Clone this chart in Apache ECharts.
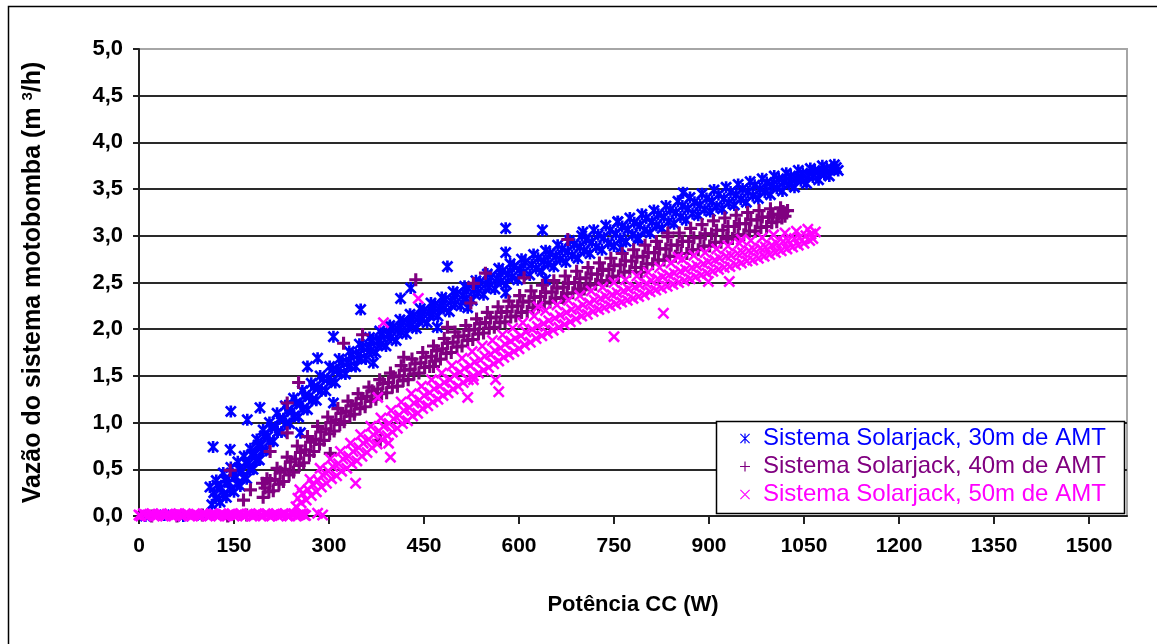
<!DOCTYPE html>
<html>
<head>
<meta charset="utf-8">
<script src="https://cdn.jsdelivr.net/npm/echarts@6/dist/echarts.min.js"></script>
<style>
html,body{margin:0;padding:0;background:#fff;}
#chart{width:1157px;height:644px;}
</style>
</head>
<body>
<div id="chart"></div>
<script>
// ---------- data ----------
const seriesNames = ['Sistema Solarjack, 30m de AMT', 'Sistema Solarjack, 40m de AMT', 'Sistema Solarjack, 50m de AMT'];
const xTicks = [0, 150, 300, 450, 600, 750, 900, 1050, 1200, 1350, 1500];

const blueZero = [[10,0.0],[40,0.01],[70,0.0],[100,0.01]];
const blueBand = [[115,0.12],[118,0.25],[122,0.38],[128,0.15],[130,0.30],[133,0.46],[138,0.20],[142,0.36],[145,0.52],[150,0.26],[153,0.42],[156,0.58],[160,0.32],[163,0.48],[166,0.64],[170,0.40],[173,0.56],[176,0.72],[180,0.50],[183,0.66],[186,0.82],[190,0.60],[193,0.76],[196,0.92],[200,0.70],[203,0.85],[206,1.00],[212,0.80],[215,0.95],[218,1.10],[225,0.90],[228,1.04],[231,1.18],[238,0.99],[241,1.12],[244,1.26],[252,1.06],[255,1.20],[258,1.34],[266,1.14],[269,1.28],[272,1.42],[280,1.24],[283,1.37],[286,1.50],[295,1.34],[298,1.47],[301,1.60],[310,1.43],[313,1.56],[316,1.68],[326,1.52],[329,1.64],[332,1.76],[342,1.60],[345,1.72],[348,1.84],[358,1.68],[361,1.80],[364,1.91],[374,1.75],[377,1.87],[380,1.98],[390,1.82],[393,1.94],[396,2.04],[406,1.88],[409,2.00],[412,2.10],[422,1.95],[425,2.06],[428,2.16],[438,2.01],[441,2.12],[444,2.22],[455,2.07],[458,2.18],[461,2.28],[472,2.14],[475,2.24],[478,2.34],[490,2.19],[493,2.30],[496,2.40],[508,2.25],[511,2.36],[514,2.46],[526,2.31],[529,2.42],[532,2.52],[544,2.37],[547,2.48],[550,2.59],[562,2.43],[565,2.54],[568,2.65],[580,2.48],[583,2.59],[586,2.70],[598,2.53],[601,2.64],[604,2.75],[617,2.58],[620,2.69],[623,2.80],[636,2.62],[639,2.73],[642,2.84],[655,2.67],[658,2.78],[661,2.90],[674,2.72],[677,2.83],[680,2.95],[693,2.76],[696,2.88],[699,3.00],[712,2.81],[715,2.93],[718,3.06],[731,2.85],[734,2.98],[737,3.11],[750,2.89],[753,3.02],[756,3.15],[769,2.94],[772,3.07],[775,3.19],[788,2.98],[791,3.11],[794,3.23],[807,3.03],[810,3.15],[813,3.27],[826,3.08],[829,3.20],[832,3.32],[845,3.13],[848,3.25],[851,3.37],[864,3.17],[867,3.29],[870,3.41],[883,3.22],[886,3.33],[889,3.45],[902,3.26],[905,3.37],[908,3.49],[921,3.29],[924,3.40],[927,3.52],[940,3.33],[943,3.44],[946,3.55],[959,3.36],[962,3.47],[965,3.58],[978,3.40],[981,3.50],[984,3.61],[997,3.44],[1000,3.54],[1003,3.64],[1016,3.48],[1019,3.58],[1022,3.67],[1035,3.52],[1038,3.61],[1041,3.70],[1054,3.56],[1057,3.64],[1060,3.72],[1073,3.60],[1076,3.67],[1079,3.75],[1090,3.64],[1094,3.71],[1098,3.76],[1104,3.70]];
const blueBandFill = [[121,0.19],[123,0.33],[133,0.23],[135,0.39],[144,0.28],[147,0.45],[155,0.34],[158,0.50],[165,0.41],[168,0.57],[175,0.50],[178,0.66],[185,0.60],[188,0.76],[195,0.70],[198,0.86],[206,0.80],[209,0.95],[219,0.90],[222,1.04],[232,0.99],[235,1.13],[245,1.07],[248,1.21],[259,1.15],[262,1.29],[273,1.24],[276,1.38],[288,1.34],[291,1.47],[303,1.44],[306,1.57],[318,1.53],[321,1.65],[334,1.61],[337,1.73],[350,1.69],[353,1.81],[366,1.77],[369,1.88],[382,1.84],[385,1.95],[398,1.91],[401,2.02],[414,1.97],[417,2.08],[430,2.04],[433,2.14],[447,2.10],[450,2.20],[464,2.16],[467,2.26],[481,2.22],[484,2.32],[499,2.27],[502,2.38],[517,2.33],[520,2.44],[535,2.39],[538,2.50],[553,2.45],[556,2.56],[571,2.51],[574,2.62],[589,2.56],[592,2.67],[607,2.61],[610,2.72],[627,2.65],[630,2.76],[646,2.70],[649,2.81],[665,2.75],[668,2.86],[684,2.79],[687,2.91],[703,2.84],[706,2.96],[722,2.88],[725,3.01],[741,2.92],[744,3.06],[760,2.97],[763,3.10],[779,3.01],[782,3.14],[798,3.06],[801,3.19],[817,3.11],[820,3.23],[836,3.15],[839,3.28],[855,3.20],[858,3.32],[874,3.24],[877,3.36],[893,3.28],[896,3.40],[912,3.31],[915,3.44],[931,3.35],[934,3.47],[950,3.39],[953,3.50],[969,3.43],[972,3.54],[988,3.47],[991,3.57],[1007,3.51],[1010,3.61],[1026,3.55],[1029,3.64],[1045,3.59],[1048,3.67],[1064,3.63],[1067,3.70],[1082,3.66],[1086,3.72],[1101,3.73]];
const blueOutliers = [[112,0.31],[117,0.74],[144,0.71],[145,1.12],[171,1.03],[191,1.16],[255,0.89],[266,1.60],[282,1.69],[307,1.92],[307,1.21],[350,2.21],[370,1.64],[413,2.33],[429,2.44],[471,2.02],[487,2.67],[519,2.23],[579,3.08],[637,3.06],[579,2.82],[579,2.39],[642,2.53],[761,2.87],[859,3.46],[788,2.96],[701,3.04],[756,3.15]];

const purpleZero = [[20,0.0],[60,0.0],[100,0.01],[140,0.0],[170,0.01]];
const purpleBand = [[196,0.20],[199,0.30],[202,0.40],[212,0.27],[215,0.39],[218,0.51],[228,0.37],[231,0.50],[234,0.63],[244,0.47],[247,0.61],[250,0.75],[260,0.57],[263,0.71],[266,0.85],[276,0.69],[279,0.82],[282,0.96],[292,0.81],[295,0.93],[298,1.06],[308,0.91],[311,1.03],[314,1.15],[324,1.01],[327,1.12],[330,1.23],[340,1.09],[343,1.20],[346,1.31],[357,1.17],[360,1.28],[363,1.38],[374,1.25],[377,1.36],[380,1.46],[391,1.32],[394,1.43],[397,1.53],[408,1.39],[411,1.50],[414,1.61],[425,1.46],[428,1.57],[431,1.68],[442,1.53],[445,1.64],[448,1.75],[459,1.60],[462,1.71],[465,1.82],[476,1.68],[479,1.79],[482,1.90],[493,1.75],[496,1.86],[499,1.97],[510,1.82],[513,1.93],[516,2.04],[527,1.89],[530,2.00],[533,2.11],[544,1.96],[547,2.07],[550,2.18],[561,2.02],[564,2.13],[567,2.24],[578,2.08],[581,2.19],[584,2.30],[595,2.14],[598,2.25],[601,2.36],[613,2.19],[616,2.30],[619,2.41],[631,2.24],[634,2.35],[637,2.47],[649,2.29],[652,2.40],[655,2.52],[667,2.34],[670,2.45],[673,2.57],[685,2.39],[688,2.50],[691,2.62],[703,2.43],[706,2.55],[709,2.66],[721,2.48],[724,2.59],[727,2.71],[739,2.52],[742,2.64],[745,2.76],[757,2.57],[760,2.69],[763,2.81],[775,2.62],[778,2.73],[781,2.85],[793,2.66],[796,2.78],[799,2.90],[811,2.70],[814,2.82],[817,2.94],[829,2.74],[832,2.86],[835,2.99],[847,2.78],[850,2.90],[853,3.03],[865,2.81],[868,2.94],[871,3.08],[883,2.85],[886,2.98],[889,3.12],[901,2.89],[904,3.02],[907,3.16],[919,2.93],[922,3.06],[925,3.19],[937,2.97],[940,3.10],[943,3.22],[955,3.01],[958,3.13],[961,3.25],[973,3.05],[976,3.17],[979,3.27],[991,3.10],[994,3.20],[997,3.29],[1007,3.15],[1010,3.23],[1013,3.30],[1020,3.21],[1024,3.27]];
const purpleBandFill = [[205,0.26],[207,0.38],[221,0.34],[223,0.47],[237,0.44],[239,0.58],[253,0.54],[255,0.68],[269,0.65],[271,0.79],[285,0.77],[287,0.90],[301,0.88],[303,1.00],[317,0.98],[319,1.10],[333,1.07],[335,1.18],[349,1.15],[351,1.26],[366,1.23],[368,1.34],[383,1.31],[385,1.42],[400,1.38],[402,1.49],[417,1.45],[419,1.56],[434,1.52],[436,1.63],[451,1.59],[453,1.70],[468,1.66],[470,1.77],[485,1.74],[487,1.85],[502,1.81],[504,1.92],[519,1.88],[521,1.99],[536,1.95],[538,2.06],[553,2.01],[555,2.12],[570,2.07],[572,2.18],[587,2.13],[589,2.24],[604,2.18],[606,2.29],[622,2.23],[624,2.34],[640,2.28],[642,2.39],[658,2.33],[660,2.44],[676,2.38],[678,2.49],[694,2.43],[696,2.54],[712,2.47],[714,2.59],[730,2.52],[732,2.63],[748,2.56],[750,2.68],[766,2.61],[768,2.73],[784,2.66],[786,2.77],[802,2.70],[804,2.82],[820,2.74],[822,2.86],[838,2.78],[840,2.90],[856,2.81],[858,2.94],[874,2.85],[876,2.98],[892,2.89],[894,3.02],[910,2.93],[912,3.06],[928,2.97],[930,3.10],[946,3.01],[948,3.13],[964,3.05],[966,3.17],[982,3.09],[984,3.20],[999,3.14],[1001,3.23],[1015,3.19],[1017,3.26]];
const purpleOutliers = [[144,0.49],[165,0.17],[176,0.28],[207,0.69],[234,0.89],[252,1.43],[234,1.21],[323,1.85],[353,1.94],[437,2.53],[528,2.49],[381,0.81],[302,0.67],[195,0.35],[465,1.60],[487,2.02],[418,1.70],[547,2.60],[608,2.55],[793,2.61],[677,2.96],[671,2.33],[930,2.98],[835,3.03],[698,2.42],[524,2.28]];

const magentaZero = [[0,0.01],[7,0.025],[14,0.0],[21,0.02],[28,0.005],[35,0.025],[42,0.0],[49,0.02],[56,0.01],[63,0.025],[70,0.0],[77,0.015],[84,0.005],[91,0.02],[98,0.0],[105,0.015],[112,0.005],[119,0.02],[126,0.0],[133,0.02],[140,0.005],[147,0.025],[154,0.01],[161,0.025],[168,0.0],[175,0.02],[182,0.01],[189,0.025],[196,0.0],[203,0.02],[210,0.005],[217,0.025],[224,0.01],[231,0.025],[238,0.0],[245,0.02],[252,0.01],[259,0.025],[263,0.005],[282,0.03],[290,0.01]];
const magentaZeroFill = [[3,0.0],[10,0.01],[17,0.02],[24,0.0],[31,0.015],[38,0.005],[45,0.02],[52,0.0],[59,0.015],[66,0.01],[73,0.025],[80,0.0],[87,0.015],[94,0.005],[101,0.025],[108,0.0],[115,0.02],[122,0.01],[129,0.025],[136,0.0],[143,0.015],[150,0.0],[157,0.02],[164,0.005],[171,0.02],[178,0.0],[185,0.015],[192,0.005],[199,0.025],[206,0.0],[213,0.015],[220,0.0],[227,0.02],[234,0.005],[241,0.025],[248,0.0],[255,0.02],[261,0.01]];
const magentaBand = [[248,0.10],[251,0.19],[254,0.28],[264,0.17],[267,0.28],[270,0.39],[280,0.26],[283,0.38],[286,0.51],[296,0.35],[299,0.48],[302,0.61],[312,0.43],[315,0.56],[318,0.69],[328,0.51],[331,0.64],[334,0.78],[344,0.59],[347,0.73],[350,0.87],[360,0.68],[363,0.82],[366,0.96],[376,0.77],[379,0.91],[382,1.05],[392,0.86],[395,0.99],[398,1.13],[408,0.94],[411,1.08],[414,1.22],[424,1.02],[427,1.16],[430,1.31],[440,1.10],[443,1.24],[446,1.39],[456,1.18],[459,1.32],[462,1.46],[472,1.25],[475,1.39],[478,1.53],[488,1.32],[491,1.46],[494,1.61],[504,1.39],[507,1.54],[510,1.69],[520,1.46],[523,1.61],[526,1.76],[536,1.53],[539,1.67],[542,1.82],[552,1.59],[555,1.73],[558,1.88],[568,1.66],[571,1.80],[574,1.94],[584,1.73],[587,1.87],[590,2.01],[600,1.79],[603,1.93],[606,2.07],[618,1.86],[621,2.00],[624,2.14],[636,1.93],[639,2.06],[642,2.20],[654,1.99],[657,2.12],[660,2.26],[672,2.05],[675,2.18],[678,2.31],[690,2.11],[693,2.23],[696,2.36],[708,2.16],[711,2.28],[714,2.41],[726,2.21],[729,2.33],[732,2.45],[744,2.25],[747,2.37],[750,2.50],[762,2.29],[765,2.41],[768,2.53],[780,2.33],[783,2.45],[786,2.57],[798,2.37],[801,2.49],[804,2.61],[816,2.42],[819,2.54],[822,2.66],[834,2.46],[837,2.58],[840,2.71],[852,2.50],[855,2.62],[858,2.75],[870,2.54],[873,2.66],[876,2.79],[888,2.58],[891,2.70],[894,2.82],[906,2.62],[909,2.74],[912,2.86],[924,2.66],[927,2.78],[930,2.89],[942,2.69],[945,2.81],[948,2.92],[960,2.73],[963,2.84],[966,2.95],[978,2.76],[981,2.87],[984,2.98],[996,2.80],[999,2.90],[1002,3.01],[1014,2.84],[1017,2.94],[1020,3.03],[1032,2.88],[1035,2.97],[1038,3.05],[1050,2.92],[1053,3.00],[1056,3.07],[1064,2.97],[1068,3.04]];
const magentaBandFill = [[256,0.14],[258,0.24],[272,0.22],[274,0.34],[288,0.31],[290,0.44],[304,0.40],[306,0.53],[320,0.48],[322,0.61],[336,0.56],[338,0.69],[352,0.64],[354,0.78],[368,0.73],[370,0.87],[384,0.82],[386,0.96],[400,0.90],[402,1.04],[416,0.99],[418,1.13],[432,1.07],[434,1.21],[448,1.15],[450,1.29],[464,1.22],[466,1.36],[480,1.29],[482,1.43],[496,1.36],[498,1.51],[512,1.43],[514,1.58],[528,1.50],[530,1.65],[544,1.56],[546,1.71],[560,1.63],[562,1.77],[576,1.70],[578,1.84],[592,1.76],[594,1.90],[609,1.83],[611,1.97],[627,1.90],[629,2.03],[645,1.96],[647,2.09],[663,2.02],[665,2.15],[681,2.08],[683,2.21],[699,2.14],[701,2.26],[717,2.19],[719,2.31],[735,2.23],[737,2.35],[753,2.27],[755,2.39],[771,2.31],[773,2.43],[789,2.35],[791,2.47],[807,2.40],[809,2.52],[825,2.44],[827,2.56],[843,2.48],[845,2.60],[861,2.52],[863,2.64],[879,2.56],[881,2.68],[897,2.60],[899,2.72],[915,2.64],[917,2.76],[933,2.67],[935,2.79],[951,2.71],[953,2.82],[969,2.74],[971,2.85],[987,2.78],[989,2.88],[1005,2.82],[1007,2.92],[1023,2.86],[1025,2.95],[1041,2.90],[1043,2.98],[1059,2.95],[1061,3.02]];
const magentaOutliers = [[342,0.35],[397,0.63],[394,0.78],[519,1.27],[441,2.33],[386,2.07],[377,1.27],[528,1.46],[568,1.33],[563,1.46],[750,1.92],[828,2.17],[899,2.51],[932,2.51],[951,2.96],[630,2.24],[851,2.77]];

// ---------- styles ----------
const COLORS = ['#0000FF', '#800080', '#FF00FF'];
const STAR = 'path://M3.9,0H6.1V10H3.9Z M0,1.6L1.6,0L10,8.4L8.4,10Z M8.4,0L10,1.6L1.6,10L0,8.4Z';
const PLUS = 'path://M3.8,0H6.2V10H3.8Z M0,3.8H10V6.2H0Z';
const CROSS = 'path://M0,1.5L1.5,0L10,8.5L8.5,10Z M8.5,0L10,1.5L1.5,10L0,8.5Z';
const STAR_L = 'path://M4.4,0H5.6V10H4.4Z M0,0.8L0.8,0L10,9.2L9.2,10Z M9.2,0L10,0.8L0.8,10L0,9.2Z';
const PLUS_L = 'path://M4.4,0H5.6V10H4.4Z M0,4.4H10V5.6H0Z';
const CROSS_L = 'path://M0,0.8L0.8,0L10,9.2L9.2,10Z M9.2,0L10,0.8L0.8,10L0,9.2Z';
const FONT = 'Liberation Sans, Arial, sans-serif';

const chart = echarts.init(document.getElementById('chart'), null, {renderer: 'canvas'});
chart.setOption({
  backgroundColor: '#fff',
  animation: false,
  graphic: [
    {type: 'rect', shape: {x: 8.5, y: 6.5, width: 1300, height: 800}, style: {fill: 'none', stroke: '#000', lineWidth: 1.5}, silent: true, z: -10},
    {type: 'rect', shape: {x: 716.5, y: 421.5, width: 408, height: 92}, style: {fill: '#fff', stroke: '#000', lineWidth: 1.5}, silent: true, z: 50}
  ],
  grid: {left: 139, top: 49, right: 30, bottom: 128, show: true, borderColor: '#a6a6a6', borderWidth: 2, backgroundColor: 'transparent'},
  legend: {
    show: true,
    orient: 'vertical',
    left: 740, top: 425,
    itemWidth: 26, itemHeight: 10, itemGap: 1,
    symbolKeepAspect: true,
    selectedMode: false,
    padding: 0,
    z: 60,
    textStyle: {fontFamily: FONT, fontSize: 24, lineHeight: 27},
    data: [
      {name: seriesNames[0], icon: STAR_L, textStyle: {color: COLORS[0]}},
      {name: seriesNames[1], icon: PLUS_L, textStyle: {color: COLORS[1]}},
      {name: seriesNames[2], icon: CROSS_L, textStyle: {color: COLORS[2]}}
    ]
  },
  xAxis: {
    type: 'value', min: 0, max: 1560, interval: 150,
    name: 'Potência CC (W)', nameLocation: 'middle', nameGap: 78,
    nameTextStyle: {fontFamily: FONT, fontSize: 22, fontWeight: 'bold', color: '#000'},
    axisLine: {show: true, onZero: false, lineStyle: {color: '#222', width: 2}},
    axisTick: {show: true, inside: false, length: 8, customValues: xTicks, lineStyle: {color: '#222', width: 2}},
    axisLabel: {margin: 20, customValues: xTicks, fontFamily: FONT, fontSize: 21, fontWeight: 'bold', color: '#000',
      formatter: v => String(v)},
    splitLine: {show: false}
  },
  yAxis: {
    type: 'value', min: 0, max: 5, interval: 0.5,
    name: '{t|Vazão do sistema motobomba (m }{s|3}{t|/h)}', nameLocation: 'middle', nameGap: 93, nameRotate: 90,
    nameTextStyle: {padding: [0, 0, 0, 0], rich: {
      t: {fontFamily: FONT, fontSize: 25, fontWeight: 'bold', color: '#000'},
      s: {fontFamily: FONT, fontSize: 15, fontWeight: 'bold', color: '#000', padding: [0, 0, 11, 0]}
    }},
    axisLine: {show: true, lineStyle: {color: '#222', width: 2}},
    axisTick: {show: true, inside: false, length: 6, lineStyle: {color: '#222', width: 2}},
    axisLabel: {margin: 16, fontFamily: FONT, fontSize: 22, fontWeight: 'bold', color: '#000',
      formatter: v => v.toFixed(1).replace('.', ',')},
    splitLine: {show: true, showMaxLine: false, lineStyle: {color: '#2a2a2a', width: 2}}
  },
  series: [
    {name: seriesNames[0], type: 'scatter', symbol: STAR, symbolSize: 12, itemStyle: {color: COLORS[0], opacity: 1},
     data: blueZero.concat(blueBand, blueBandFill, blueOutliers), z: 2},
    {name: seriesNames[1], type: 'scatter', symbol: PLUS, symbolSize: 13, itemStyle: {color: COLORS[1], opacity: 1},
     data: purpleZero.concat(purpleBand, purpleBandFill, purpleOutliers), z: 3},
    {name: seriesNames[2], type: 'scatter', symbol: CROSS, symbolSize: 12, itemStyle: {color: COLORS[2], opacity: 1},
     data: magentaZero.concat(magentaZeroFill, magentaBand, magentaBandFill, magentaOutliers), z: 4}
  ]
});
</script>
</body>
</html>
